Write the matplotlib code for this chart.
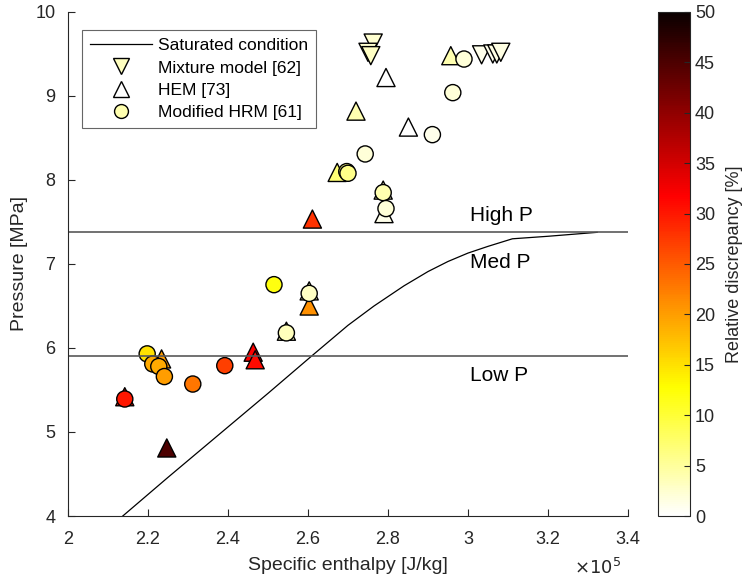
import matplotlib
matplotlib.use("Agg")
import matplotlib.pyplot as plt
from matplotlib.lines import Line2D
from matplotlib.ticker import FuncFormatter

plt.rcParams['font.family'] = ['Liberation Sans', 'DejaVu Sans']

# saturated condition curve (enthalpy J/kg, pressure MPa)
sat_h = [2.137e5, 2.25e5, 2.40e5, 2.50e5, 2.608e5, 2.70e5, 2.765e5, 2.84e5,
         2.90e5, 2.95e5, 3.00e5, 3.05e5, 3.111e5, 3.20e5, 3.323e5]
sat_p = [4.00, 4.46, 5.06, 5.46, 5.90, 6.27, 6.50, 6.74,
         6.91, 7.03, 7.13, 7.21, 7.30, 7.33, 7.377]

P_LOW = 5.9
P_HIGH = 7.377

# Mixture model [62]
mix_h = [2.763e5, 2.750e5, 2.757e5, 3.034e5, 3.062e5, 3.072e5, 3.082e5]
mix_p = [9.63, 9.52, 9.48, 9.49, 9.50, 9.50, 9.52]
mix_err = [2.5, 2.5, 3.0, 1.0, 1.0, 1.5, 1.5]

# HEM [73]
hem_h = [2.957e5, 2.795e5, 2.720e5, 2.851e5, 2.673e5, 2.788e5, 2.790e5, 2.611e5,
         2.603e5, 2.603e5, 2.546e5, 2.463e5, 2.468e5, 2.234e5, 2.247e5, 2.142e5]
hem_p = [9.48, 9.22, 8.82, 8.63, 8.09, 7.88, 7.60, 7.535,
         6.68, 6.50, 6.20, 5.95, 5.86, 5.87, 4.81, 5.42]
hem_err = [4, 0, 4, 0, 7, 2, 1, 28,
           3, 21, 3, 32, 31, 20, 45, 30]

# Modified HRM [61]
hrm_h = [2.990e5, 2.962e5, 2.911e5, 2.743e5, 2.697e5, 2.700e5, 2.788e5, 2.795e5,
         2.603e5, 2.515e5, 2.546e5, 2.198e5, 2.212e5, 2.227e5, 2.241e5, 2.312e5,
         2.392e5, 2.142e5]
hrm_p = [9.44, 9.04, 8.54, 8.31, 8.10, 8.08, 7.85, 7.66,
         6.65, 6.754, 6.18, 5.93, 5.81, 5.78, 5.66, 5.571,
         5.79, 5.393]
hrm_err = [2, 2, 1, 2, 6, 6, 4, 2,
           3, 12, 3.5, 15, 19, 19, 20, 23,
           27, 30]

cmap = 'hot_r'
txt = '0.15'

fig = plt.figure(figsize=(7.47, 5.82), dpi=100)
ax = fig.add_axes([0.091, 0.1134, 0.7497, 0.866])

ax.plot(sat_h, sat_p, color='black', lw=0.9)
ax.axhline(P_LOW, color='0.35', lw=1.2)
ax.axhline(P_HIGH, color='0.35', lw=1.2)

kw = dict(cmap=cmap, vmin=0, vmax=50, edgecolors='black', linewidths=1.0)
ax.scatter(mix_h, mix_p, c=mix_err, marker='v', s=170, **kw)
ax.scatter(hem_h, hem_p, c=hem_err, marker='^', s=170, **kw)
sc = ax.scatter(hrm_h, hrm_p, c=hrm_err, marker='o', s=135, **kw)

ax.text(3.005e5, 7.58, 'High P', fontsize=15, va='center')
ax.text(3.005e5, 7.02, 'Med P', fontsize=15, va='center')
ax.text(3.005e5, 5.67, 'Low P', fontsize=15, va='center')

ax.set_xlim(2.0e5, 3.4e5)
ax.set_ylim(4, 10)
ax.set_xticks([2.0e5, 2.2e5, 2.4e5, 2.6e5, 2.8e5, 3.0e5, 3.2e5, 3.4e5])
ax.xaxis.set_major_formatter(FuncFormatter(lambda v, pos: f"{v / 1e5:g}"))
ax.text(0.946, -0.103, r'$\times10^{5}$', transform=ax.transAxes, fontsize=13,
        color=txt, ha='center', va='center')

ax.set_xlabel('Specific enthalpy [J/kg]', fontsize=14, color=txt, labelpad=6)
ax.set_ylabel('Pressure [MPa]', fontsize=14, color=txt, labelpad=5)
ax.tick_params(direction='in', labelsize=13, colors=txt, length=5)
ax.tick_params(axis='x', pad=11)
ax.tick_params(axis='y', pad=9)
for side in ['top', 'right']:
    ax.spines[side].set_visible(False)
for side in ['left', 'bottom']:
    ax.spines[side].set_color(txt)

handles = [
    Line2D([], [], color='black', lw=0.9),
    Line2D([], [], ls='none', marker='v', ms=11, mfc='#ffffc0', mec='black'),
    Line2D([], [], ls='none', marker='^', ms=11, mfc='white', mec='black'),
    Line2D([], [], ls='none', marker='o', ms=10, mfc='#ffffb0', mec='black'),
]
labels = ['Saturated condition', 'Mixture model [62]', 'HEM [73]', 'Modified HRM [61]']
leg = ax.legend(handles, labels, loc='upper left', bbox_to_anchor=(0.025, 0.964),
                fontsize=12.5, fancybox=False, edgecolor='0.4', framealpha=1,
                handlelength=3.6, handletextpad=0.35, borderpad=0.45,
                labelspacing=0.42, borderaxespad=0)
leg.get_frame().set_linewidth(0.8)

cax = fig.add_axes([0.881, 0.1134, 0.043, 0.866])
cb = fig.colorbar(sc, cax=cax, ticks=range(0, 51, 5))
cb.set_label('Relative discrepancy [%]', fontsize=13, color=txt, labelpad=8)
cb.ax.tick_params(direction='in', labelsize=13, colors=txt, length=4)
cb.outline.set_edgecolor(txt)

fig.savefig('out.png', dpi=100)
